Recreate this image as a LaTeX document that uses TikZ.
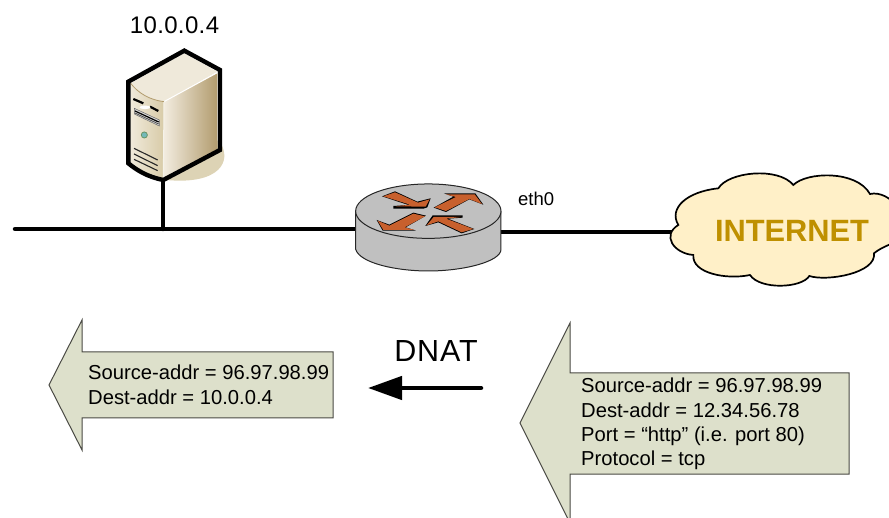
\documentclass[tikz,border=0pt]{standalone}
\usepackage{fontspec}
\setmainfont{Liberation Sans}
\usetikzlibrary{arrows.meta}
\definecolor{arrowfill}{HTML}{DDE0CB}
\definecolor{arrowline}{HTML}{4A4A44}
\definecolor{routergrey}{HTML}{C0C0C0}
\definecolor{routerarrow}{HTML}{C8602D}
\definecolor{cloudfill}{HTML}{FFF0C8}
\definecolor{inettext}{HTML}{BF9000}
\definecolor{srvshadow}{HTML}{DDD3B5}
\definecolor{srvtop}{HTML}{EFE9DA}
\definecolor{srvfrontL}{HTML}{F0EADB}
\definecolor{srvfrontR}{HTML}{D8CBA8}
\definecolor{srvrightL}{HTML}{F2ECDF}
\definecolor{srvrightR}{HTML}{B29C6E}
\tikzset{
  wire/.style={line width=4.5pt,line cap=round},
  hidden/.style={inner sep=0pt,outer sep=0pt,minimum width=#1},
  packet/.style={draw=arrowline,fill=arrowfill,line width=1pt,line join=miter},
  packettext/.style={inner sep=0pt,anchor=north west,align=left,font=\fontsize{20.2}{24.35}\selectfont},
  rshadow/.style={fill=black},
  vent/.style={draw=black!85,line width=1.1pt},
}
\begin{document}
\begin{tikzpicture}[x=1pt,y=-1pt]
\useasboundingbox (0,0) rectangle (889,518);
\fill[white] (0,0) rectangle (889,518);

% anchors for the network
\node[hidden=92pt,minimum height=130pt] (server) at (174,115) {};
\node[hidden=145pt,minimum height=78pt] (router) at (428.5,232) {};
\node[hidden=218pt,minimum height=100pt] (cloud) at (780,232) {};
\coordinate (busL) at (15,229);
\coordinate (tap) at (163,229);

% wires
\draw[wire] (busL) -- (busL -| router.west);
\draw[wire] (tap) -- (tap |- server.south);
\draw[wire] (router.east) -- (cloud.west);

% server
\begin{scope}[shift={(100,0)},x=.3333pt,y=-.3333pt]
  \fill[srvshadow] (355,420) .. controls (395,470) and (375,545) .. (230,542) -- (190,540) -- cycle;
  \fill[srvtop] (92,250) -- (253,160) -- (352,215) -- (192,305) .. controls (150,300) and (115,280) .. (92,250) -- cycle;
  \shade[left color=srvfrontL,right color=srvfrontR] (92,250) .. controls (115,280) and (150,300) .. (192,305) -- (190,535) .. controls (150,525) and (115,510) .. (90,485) -- cycle;
  \shade[left color=srvrightL,right color=srvrightR] (192,305) -- (352,218) -- (352,447) -- (192,535) -- cycle;
  \draw[white,line width=1pt] (192,305) -- (352,218);
  \draw[white!70!srvshadow,line width=1pt] (192,305) -- (190,535);
  \draw[srvrightR,line width=.8pt] (92,250) .. controls (115,280) and (150,300) .. (192,305);
  \draw[black,line width=2.2pt] (100,297) -- (130,310);
  \draw[black,line width=2.2pt] (150,320) -- (175,333);
  \fill[white] (135,322) ellipse (5.5pt and 1.8pt);
  \fill[white!85!black,draw=black!60,line width=.5pt] (103,325) -- (178,360) -- (178,378) -- (103,342) -- cycle;
  \draw[black,line width=1.2pt] (105,333) -- (176,366);
  \draw[black!70,line width=.8pt] (105,339) -- (176,372);
  \fill[black!70!green!60!white] (133,405) circle (3.5pt);
  \fill[teal!55!white] (133,405) circle (2.5pt);
  \draw[vent] (102,445) -- (173,480);
  \draw[vent] (102,462) -- (173,497);
  \draw[vent] (102,478) -- (173,512);
  \draw[black,line width=4.4pt,line join=miter] (253,152) -- (360,210) -- (360,450) -- (190,540) .. controls (140,530) and (110,510) .. (85,490) -- (85,245) -- cycle;
\end{scope}

% router
\begin{scope}[shift={(340,170)},x=.3333pt,y=-.3333pt]
  \filldraw[fill=routergrey,draw=black!85,line width=1pt]
    (47,124) -- (47,238) .. controls (60,280) and (170,303) .. (265,303) .. controls (370,303) and (483,275) .. (483,238) -- (483,124) -- cycle;
  \filldraw[fill=routergrey,draw=black!85,line width=1pt] (265,123.5) ellipse (72.67pt and 27.2pt);
  \fill[rshadow] (126,79) -- (165,64) -- (232,95) -- (272,85) -- (262,112) -- (250,116) -- (160,116) -- (160,108) -- (205,105) -- cycle;
  \fill[rshadow] (281,113) -- (340,80) -- (312,70) -- (406,70) -- (430,104) -- (388,88) -- (318,126) -- cycle;
  \fill[rshadow] (258,137) -- (197,172) -- (228,182) -- (128,182) -- (110,150) -- (148,164) -- (220,128) -- cycle;
  \fill[rshadow] (256,168) -- (278,136) -- (368,136) -- (368,143) -- (324,146) -- (403,177) -- (365,190) -- (295,157) -- cycle;
  \fill[routerarrow] (130,79) -- (165,67) -- (234,98) -- (269,88) -- (257,110) -- (168,109) -- (210,104) -- cycle;
  \fill[routerarrow] (284,112) -- (348,81) -- (317,73) -- (404,73) -- (426,102) -- (388,87) -- (318,123) -- cycle;
  \fill[routerarrow] (255,139) -- (194,172) -- (224,180) -- (130,180) -- (113,152) -- (148,167) -- (220,131) -- cycle;
  \fill[routerarrow] (260,166) -- (281,141) -- (362,141) -- (318,146) -- (400,177) -- (365,187) -- (295,154) -- cycle;
\end{scope}

% cloud
\begin{scope}[shift={(650,170)},x=.3333pt,y=-.3333pt]
  \filldraw[fill=cloudfill,draw=black,line width=1.7pt]
    (85,165) .. controls (55,115) and (110,65) .. (205,55)
    .. controls (235,5) and (385,-10) .. (430,45)
    .. controls (470,5) and (620,0) .. (660,72)
    .. controls (690,65) and (725,85) .. (740,110)
    -- (740,215)
    .. controls (715,225) and (690,235) .. (672,250)
    .. controls (680,310) and (530,335) .. (478,318)
    .. controls (455,355) and (330,360) .. (300,315)
    .. controls (230,330) and (125,310) .. (130,255)
    .. controls (70,250) and (35,195) .. (85,165) -- cycle;
\end{scope}
\node[inner sep=0pt,anchor=base,text=inettext,font=\fontsize{30.8}{36}\selectfont\bfseries] (inet) at (792,242) {INTERNET};

% labels
\node[inner sep=0pt,anchor=base,font=\fontsize{24}{28}\selectfont\addfontfeature{LetterSpace=1.5}] (addr) at (174.5,34) {10.0.0.4};
\node[inner sep=0pt,anchor=base west,font=\fontsize{18.5}{22}\selectfont] (eth) at (518,206) {eth0};

% packets
\filldraw[packet] (49,385) -- (82,320) -- (82,352) -- (333,352) -- (333,418) -- (82,418) -- (82,450) -- cycle;
\node[packettext] (pktL) at (88,365) {Source-addr = 96.97.98.99\\Dest-addr = 10.0.0.4};
\filldraw[packet] (520,423) -- (570,323) -- (570,373) -- (849,373) -- (849,474) -- (570,474) -- (570,523) -- cycle;
\node[packettext] (pktR) at (581,378) {Source-addr = 96.97.98.99\\Dest-addr = 12.34.56.78\\Port = “http” (i.e. port 80)\\Protocol = tcp};

% DNAT
\node[inner sep=0pt,anchor=base,font=\fontsize{30.5}{34}\selectfont\addfontfeature{LetterSpace=3}] (dnat) at (436,362) {DNAT};
\coordinate (dnatS) at (481,388);
\coordinate (dnatE) at (368,388);
\draw[line width=4.5pt,line cap=round,-{Triangle[length=34pt,width=23pt]}] (dnatS) -- (dnatE);
\end{tikzpicture}
\end{document}
